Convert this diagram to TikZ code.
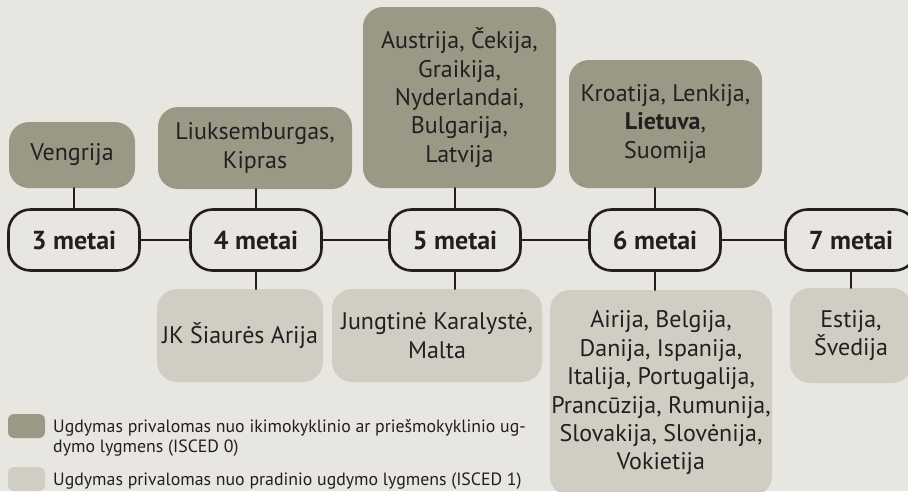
\documentclass[tikz,border=0pt]{standalone}
\usepackage{fontspec}
\setmainfont{PT Sans}
\definecolor{bg}{HTML}{E8E6E1}
\definecolor{darkbox}{HTML}{9B9986}
\definecolor{lightbox}{HTML}{D0CEC3}
\definecolor{ink}{HTML}{231F20}
\begin{document}
\begin{tikzpicture}[x=1pt,y=-1pt,line join=round,line cap=round,
	box/.style={rounded corners=20pt,inner sep=0pt,align=center,text=ink,font=\fontsize{24}{28.4}\selectfont},
	darkb/.style={box,fill=darkbox},
	lightb/.style={box,fill=lightbox},
	age/.style={draw=ink,line width=2.6pt,rounded corners=22pt,minimum width=131pt,minimum height=61pt,inner sep=0pt,text=ink,font=\fontsize{26}{28}\selectfont\bfseries},
	link/.style={draw=ink,line width=2.6pt},
	key/.style={rounded corners=6pt,minimum width=37pt,minimum height=24pt,inner sep=0pt},
	legend/.style={text=ink,align=left,inner sep=0pt,font=\fontsize{17.8}{20}\selectfont}]
	\fill[bg] (0,0) rectangle (908,491);
	\useasboundingbox (0,0) rectangle (908,491);
	\clip (0,0) rectangle (908,491);
	% upper boxes
	\node[darkb,minimum width=126pt,minimum height=66pt] (veng) at (72,155) {Vengrija};
	\node[darkb,minimum width=194pt,minimum height=82pt] (liuks) at (255,148) {Liuksemburgas,\\Kipras};
	\node[darkb,minimum width=193pt,minimum height=181pt] (austr) at (459.5,97.5) {Austrija, Čekija,\\Graikija,\\Nyderlandai,\\Bulgarija,\\Latvija};
	\node[darkb,minimum width=193pt,minimum height=128pt] (kroat) at (665.5,124) {Kroatija, Lenkija,\\\textbf{Lietuva},\\Suomija};
	% lower boxes
	\node[lightb,minimum width=166pt,minimum height=93pt] (jk) at (240,335.5) {JK Šiaurės Arija};
	\node[lightb,minimum width=210pt,minimum height=93pt] (jungt) at (437,335.5) {Jungtinė Karalystė,\\Malta};
	\node[lightb,minimum width=222pt,minimum height=206pt] (airija) at (661,393) {Airija, Belgija,\\Danija, Ispanija,\\Italija, Portugalija,\\Prancūzija, Rumunija,\\Slovakija, Slovėnija,\\Vokietija};
	\node[lightb,minimum width=122pt,minimum height=95pt] (estija) at (851,335.5) {Estija,\\Švedija};
	% ages
	\foreach \n/\x in {3/74,4/256,5/455,6/655,7/851}{
		\node[age] (m\n) at (\x,240) {\n\ metai};
	};
	\foreach \a/\b in {3/4,4/5,5/6,6/7}{
		\draw[link] (m\a) -- (m\b);
	};
	\draw[link] (m3.north) -- (m3.north |- veng.south)
		(m4.north) -- (m4.north |- liuks.south)
		(m5.north) -- (m5.north |- austr.south)
		(m6.north) -- (m6.north |- kroat.south)
		(m4.south) -- (m4.south |- jk.north)
		(m5.south) -- (m5.south |- jungt.north)
		(m6.south) -- (m6.south |- airija.north)
		(m7.south) -- (m7.south |- estija.north);
	% legend
	\node[key,fill=darkbox] (k0) at (26.5,426) {};
	\node[key,fill=lightbox] (k1) at (26.5,479) {};
	\node[legend,anchor=west] (t0) at (53,438) {Ugdymas privalomas nuo ikimokyklinio ar priešmokyklinio ug-\\dymo lygmens (ISCED 0)};
	\node[legend,anchor=west] (t1) at (53,481) {Ugdymas privalomas nuo pradinio ugdymo lygmens (ISCED 1)};
\end{tikzpicture}
\end{document}
